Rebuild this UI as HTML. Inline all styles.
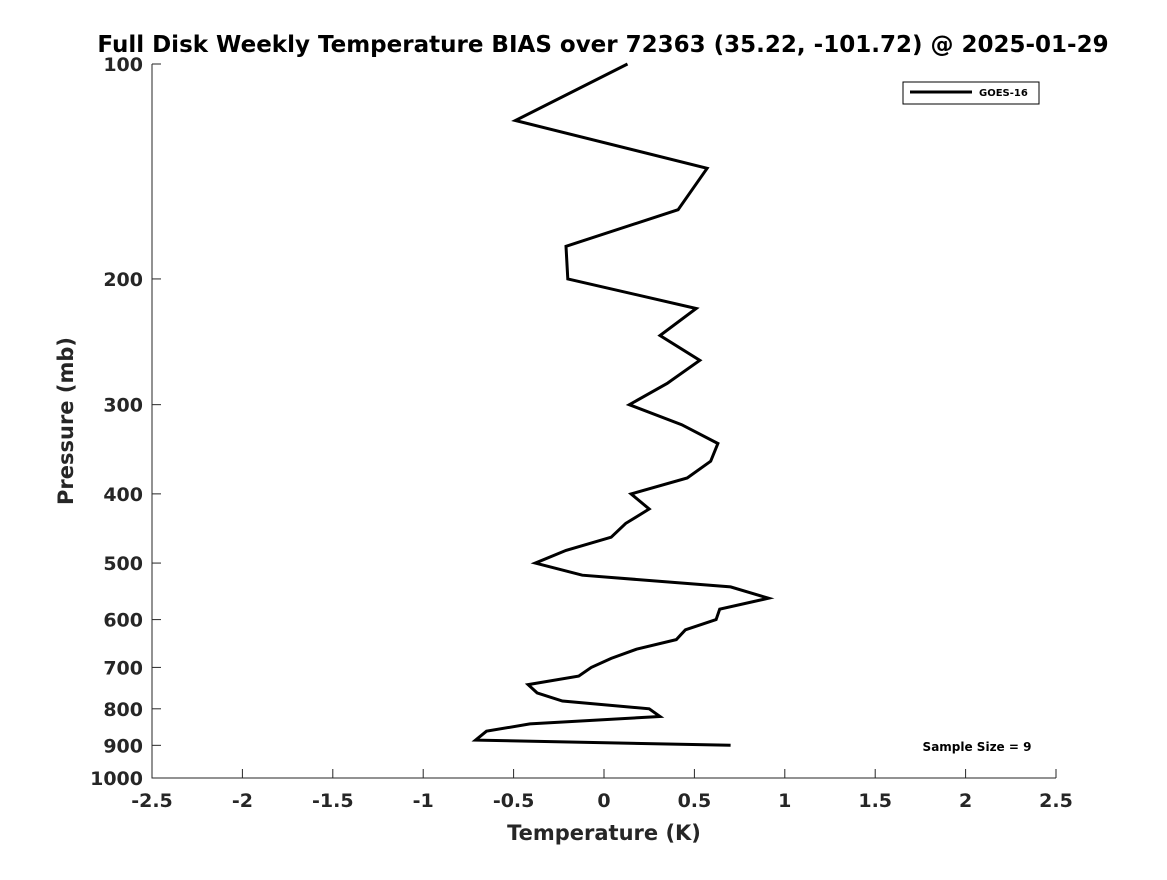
<!DOCTYPE html>
<html><head><meta charset="utf-8"><style>
body{margin:0;background:#fff;}
svg text{font-family:"DejaVu Sans","Liberation Sans",sans-serif;font-weight:bold;fill:#262626;}
</style></head><body>
<svg width="1167" height="875" xmlns="http://www.w3.org/2000/svg">
<rect width="1167" height="875" fill="#fff"/>
<text x="603" y="52" text-anchor="middle" font-size="23" style="fill:#000">Full Disk Weekly Temperature BIAS over 72363 (35.22, -101.72) @ 2025-01-29</text>
<g id="axes"></g>
<g id="plot"></g>
<g>
<rect x="903" y="82" width="136" height="22" fill="#fff" stroke="#000" stroke-width="1"/>
<line x1="910" y1="92" x2="972" y2="92" stroke="#000" stroke-width="3"/>
<text x="979" y="96" font-size="10" style="fill:#000">GOES-16</text>
</g>
<text x="977" y="751" text-anchor="middle" font-size="12" style="fill:#000">Sample Size = 9</text>
<text x="604" y="840" text-anchor="middle" font-size="21">Temperature (K)</text>
<text transform="translate(73,421) rotate(-90)" text-anchor="middle" font-size="21">Pressure (mb)</text>
</svg>
<script>
const xTicks=[-2.5,-2,-1.5,-1,-0.5,0,0.5,1,1.5,2,2.5];
const yTicks=[100,200,300,400,500,600,700,800,900,1000];
const temps=[0.13,-0.49,0.57,0.41,-0.21,-0.2,0.51,0.31,0.53,0.35,0.14,0.43,0.63,0.59,0.46,0.15,0.25,0.12,0.04,-0.21,-0.38,-0.12,0.7,0.91,0.64,0.62,0.45,0.4,0.18,0.04,-0.07,-0.14,-0.42,-0.37,-0.23,0.25,0.31,-0.41,-0.65,-0.71,0.7];
const pressures=[100,120,140,160,180,200,220,240,260,280,300,320,340,360,380,400,420,440,460,480,500,520,540,560,580,600,620,640,660,680,700,720,740,760,780,800,820,840,860,885,900];
const X0=152,X1=1056,Y0=64,Y1=778;
const xs=v=>X0+(v+2.5)/5*(X1-X0);
const ys=p=>Y0+(Math.log10(p)-2)*(Y1-Y0);
const NS="http://www.w3.org/2000/svg";
const ax=document.getElementById('axes');
function mk(t,a,parent){const e=document.createElementNS(NS,t);for(const k in a)e.setAttribute(k,a[k]);parent.appendChild(e);return e;}
const spines=mk('path',{d:`M${X0},${Y0}V${Y1}H${X1}`,fill:'none',stroke:'#262626','stroke-width':1},ax);


xTicks.forEach(v=>{
 const x=xs(v);
 mk('line',{x1:x,y1:Y1,x2:x,y2:Y1-9,stroke:'#262626'},ax);
 const t=mk('text',{x:x,y:807,'text-anchor':'middle','font-size':19},ax);
 t.textContent=String(v);
 
 
});
yTicks.forEach(p=>{
 const y=ys(p);
 mk('line',{x1:X0,y1:y,x2:X0+9,y2:y,stroke:'#262626'},ax);
 const t=mk('text',{x:143,y:y+7,'text-anchor':'end','font-size':19},ax);
 t.textContent=String(p);
 
 
});
const d=temps.map((v,i)=>(i?'L':'M')+xs(v).toFixed(1)+','+ys(pressures[i]).toFixed(1)).join('');
const line=mk('path',{d:d,fill:'none',stroke:'#000','stroke-width':3,'stroke-linejoin':'miter'},document.getElementById('plot'));


</script>
</body></html>
